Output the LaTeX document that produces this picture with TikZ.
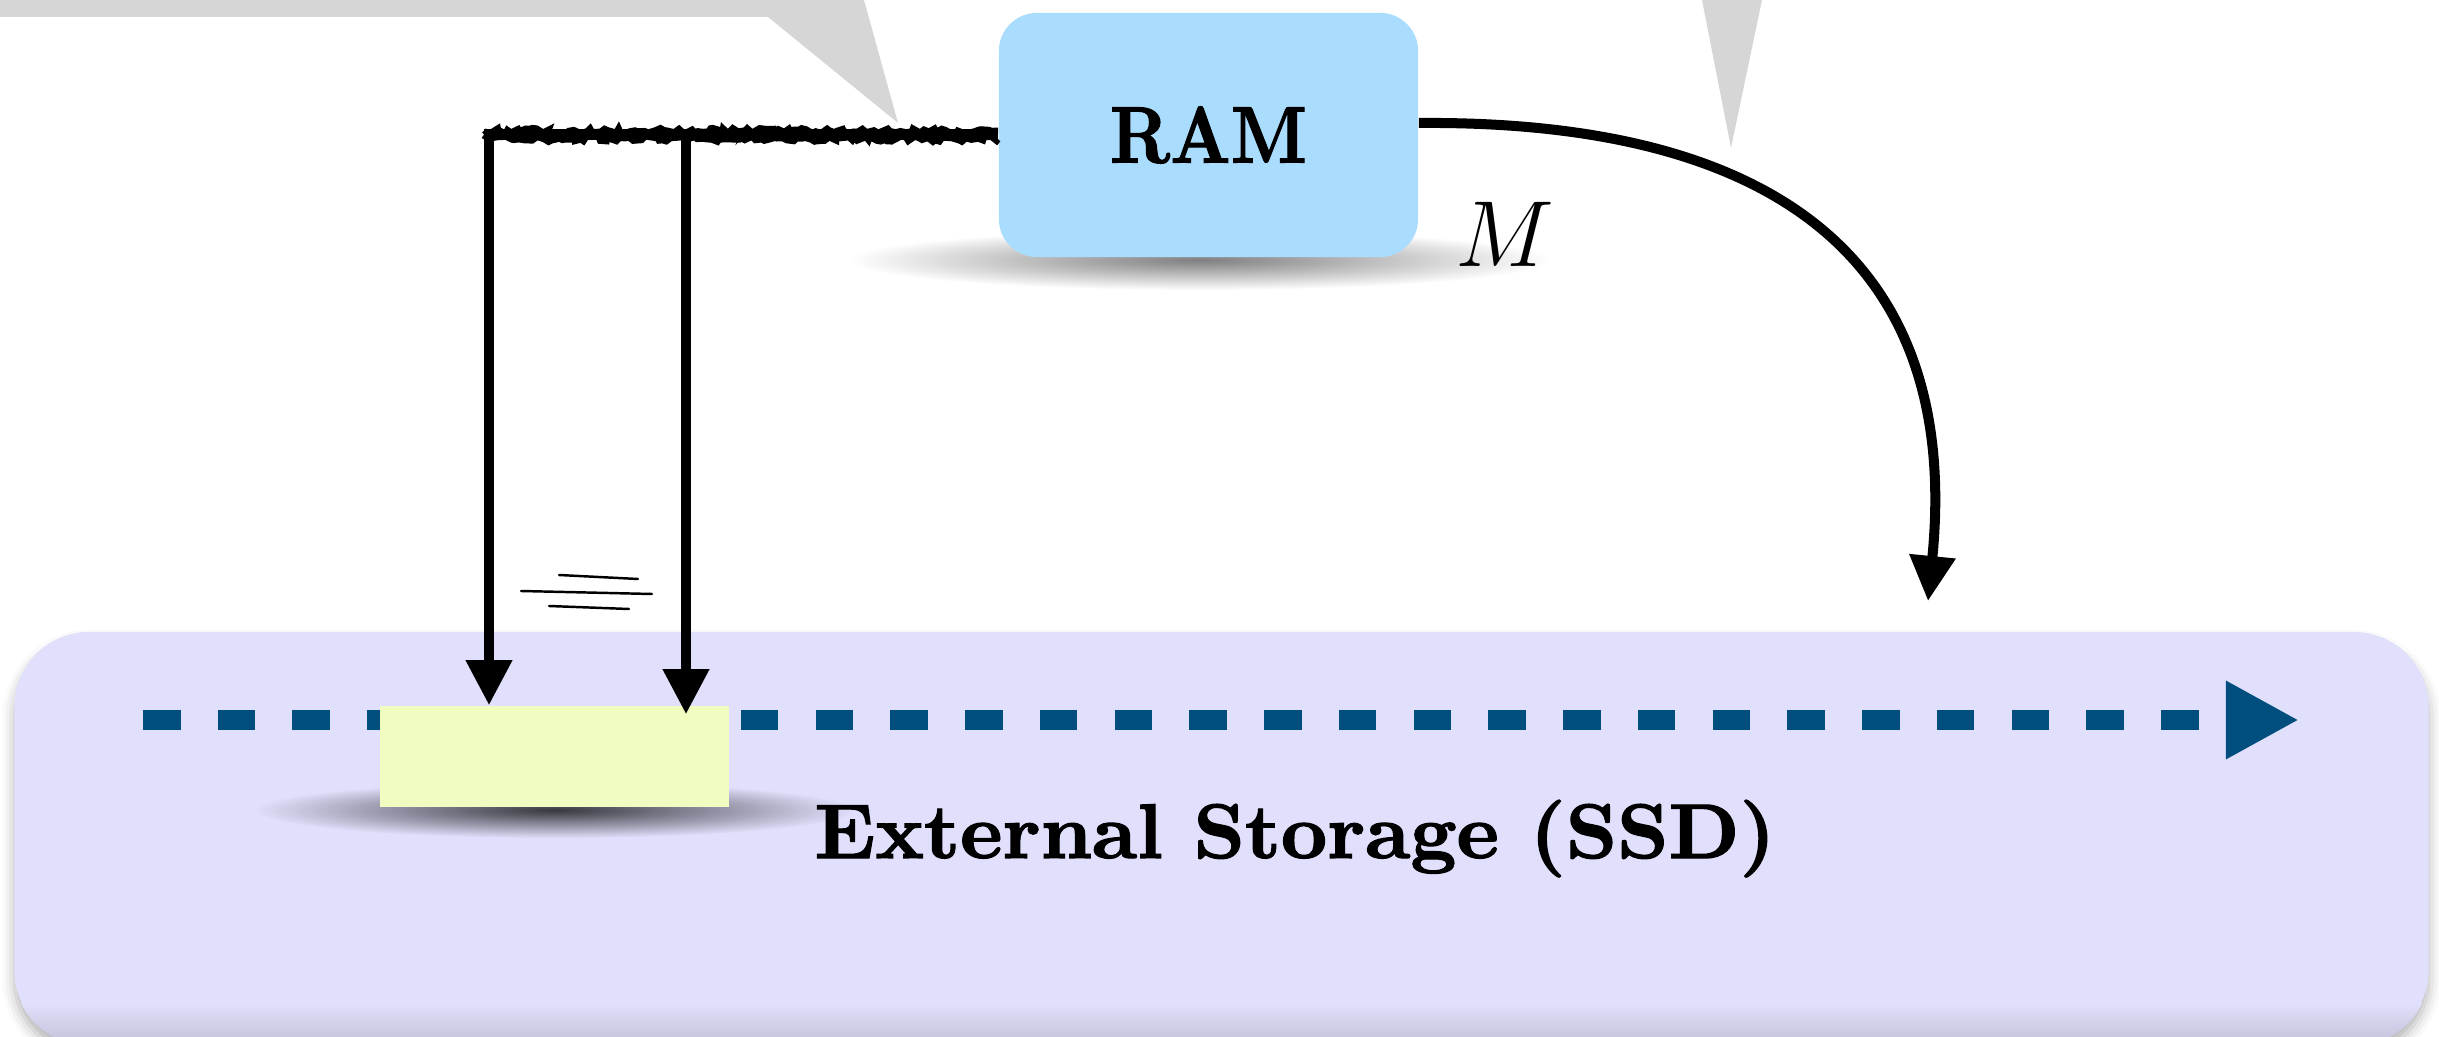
\RequirePackage{fix-cm}
\documentclass[tikz,border=0pt]{standalone}
\usepackage{fontspec}
\usetikzlibrary{arrows.meta,decorations.pathmorphing,fadings,shadows.blur,calc}

\newfontfamily\heavyserif{lmroman10-bold.otf}[FakeBold=1.6]

\definecolor{storagebg}{RGB}{224,224,252}
\definecolor{rambg}{RGB}{170,220,253}
\definecolor{blockbg}{RGB}{241,252,192}
\definecolor{flowblue}{RGB}{0,78,125}
\definecolor{pointergray}{RGB}{214,214,214}

\tikzfading[name=softspot, inner color=transparent!0, outer color=transparent!100]

\tikzset{
  storagebox/.style={fill=storagebg, rounded corners=0.75cm, minimum width=24.13cm,
    minimum height=4.13cm, inner sep=0pt,
    blur shadow={shadow xshift=0cm, shadow yshift=-0.1cm, shadow blur radius=0.12cm, shadow opacity=30}},
  rambox/.style={fill=rambg, rounded corners=0.38cm, minimum width=4.19cm, minimum height=2.44cm,
    inner sep=0pt, font=\fontsize{22.8}{26}\selectfont\heavyserif},
  blockbox/.style={fill=blockbg, minimum width=3.49cm, minimum height=1.01cm, inner sep=0pt},
  storagelabel/.style={font=\fontsize{22}{26}\selectfont\heavyserif, inner sep=0pt},
  flow/.style={draw=flowblue, line width=0.19cm, dash pattern=on 0.375cm off 0.372cm,
    -{Triangle[width=0.73cm, length=0.73cm, fill=flowblue]}},
  drop/.style={draw=black, line width=0.1cm, -{Triangle[width=0.44cm, length=0.45cm]}},
  ragged/.style={draw=black, line width=1.6pt, decorate,
    decoration={random steps, segment length=1.2pt, amplitude=0.8pt}},
  tallystroke/.style={draw=black, line width=0.7pt, line cap=round},
}

\begin{document}
\begin{tikzpicture}[x=0.01cm, y=-0.01cm]
\pgfmathsetseed{11}
\useasboundingbox (0,0) rectangle (2439,1037);

% pointer wedges along the top edge
\fill[pointergray] (0,0) -- (0,17) -- (768,17) -- (898,123) -- (864,0) -- cycle;
\fill[pointergray] (1702,0) -- (1731,148) -- (1762,0) -- cycle;

% external storage panel
\node[storagebox] (ssd) at (1221.5,838.5) {};
\begin{scope}
  \clip[rounded corners=0.75cm] (ssd.south west) rectangle (ssd.north east);
  \shade[top color=storagebg, bottom color=storagebg!86!black] (15,1003) rectangle (2428,1045);
\end{scope}

% sequential scan direction
\coordinate (fs) at (143,720);
\coordinate (fe) at (2299,720);
\draw[flow] (fs) -- (fe);

% block on the storage device
\fill[black, opacity=0.75, path fading=softspot] (555,810) ellipse (3.0cm and 0.28cm);
\node[blockbox] (blk) at (554.5,756.5) {};

\node[storagelabel, anchor=base] (ssdlabel) at (1295,858)
  {\scalebox{1.04}[1]{External Storage (SSD)}};

% main memory
\fill[black, opacity=0.5, path fading=softspot] (1200,260) ellipse (3.5cm and 0.3cm);
\node[rambox] (ram) at (1208.5,135) {\scalebox{0.87}[1]{RAM}};
\node[anchor=base, inner sep=0pt] (mlab) at (1505,267) {\fontsize{26.7}{30}\selectfont$M$};

% transfer lines from memory down to the block
\coordinate (j0) at (484,135);
\coordinate (j1) at (489,129);
\coordinate (j2) at (686,129);
\draw[line width=0.11cm] (ram.west) -- (j0);
\begin{scope}[transform canvas={yshift=0.045cm}]
  \draw[ragged] (ram.west) -- (j0);
\end{scope}
\begin{scope}[transform canvas={yshift=-0.045cm}]
  \draw[ragged] (ram.west) -- (j0);
\end{scope}
\draw[drop] (j1) -- (j1 |- blk.north);
\coordinate (t2) at ($(j2 |- blk.north)+(0,9)$);
\draw[drop] (j2) -- (t2);

% write-back arrow from memory
\coordinate (rs) at ($(ram.east)+(0,-12)$);
\coordinate (ct) at (1928,601);
\draw[drop] (rs) .. controls (1800,120) and (1960,280) .. (ct);

% hatch strokes between the drop lines
\draw[tallystroke] (559,575) -- (638,579);
\draw[tallystroke] (521,591) -- (652,594);
\draw[tallystroke] (549,606) -- (629,609);
\end{tikzpicture}
\end{document}
